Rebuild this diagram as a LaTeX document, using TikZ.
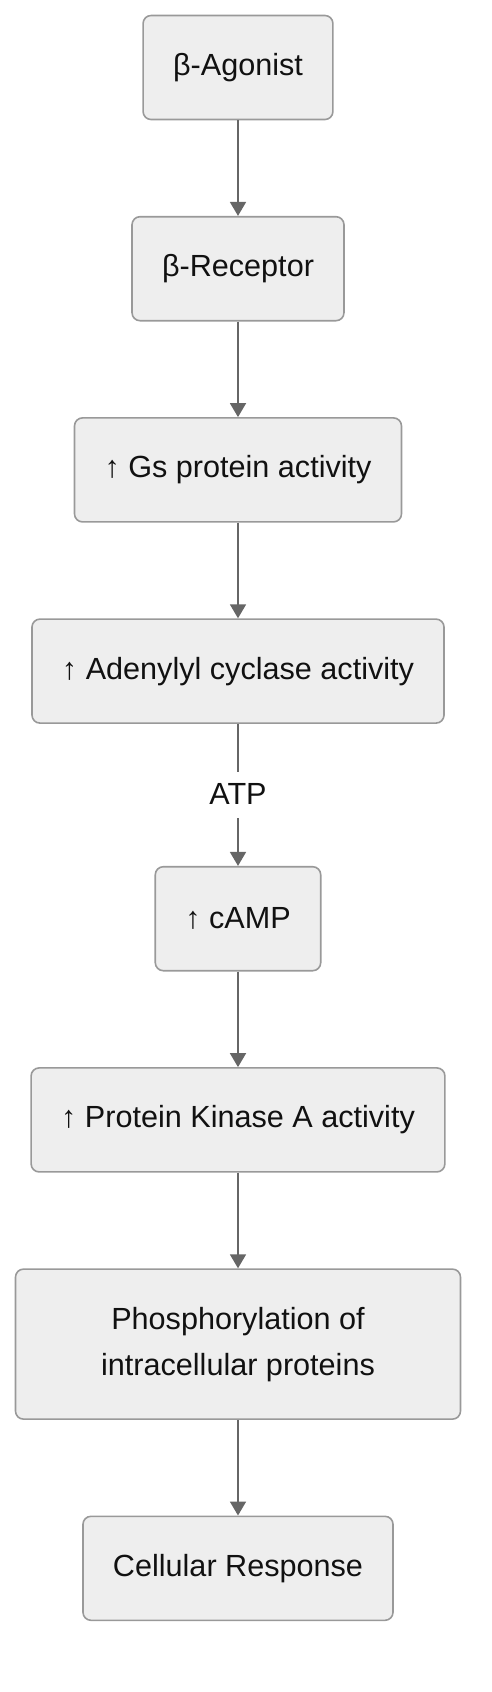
\documentclass[tikz,border=0pt]{standalone}
\usepackage{fontspec}
\setmainfont{Liberation Sans}
\usetikzlibrary{positioning,arrows.meta}
\definecolor{boxfill}{HTML}{EEEEEE}
\definecolor{boxline}{HTML}{999999}
\definecolor{flowline}{HTML}{666666}
\definecolor{ink}{HTML}{111111}
\begin{document}
\begin{tikzpicture}[x=1pt,y=1pt,
    stage/.style={draw=boxline,fill=boxfill,line width=1.6pt,rounded corners=8pt,
      minimum height=104pt,inner xsep=30pt,text=ink,align=center,
      font=\fontsize{30.6}{46}\selectfont},
    flow/.style={draw=flowline,line width=1.8pt,-{Triangle[length=14pt,width=16pt]}},
    atp/.style={fill=white,text=ink,inner xsep=4pt,inner ysep=11pt,
      text height=22pt,text depth=2pt,font=\fontsize{30.6}{46}\selectfont},
    node distance=95.6pt]
  \useasboundingbox (0,0) rectangle (492,-1692); % page
  \node[stage] (agonist) at (238,-67.5) {β-Agonist};
  \node[stage,below=of agonist] (receptor) {β-Receptor};
  \node[stage,below=of receptor] (gs) {↑ Gs protein activity};
  \node[stage,below=of gs] (ac) {↑ Adenylyl cyclase activity};
  \node[stage,below=142pt of ac] (camp) {↑ cAMP};
  \node[stage,below=of camp] (pka) {↑ Protein Kinase A activity};
  \node[stage,below=of pka,minimum width=445pt,minimum height=150pt] (phos) {Phosphorylation of\\intracellular proteins};
  \node[stage,below=of phos] (resp) {Cellular Response};
  % links
  \draw[flow] (agonist) -- (receptor);
  \draw[flow] (receptor) -- (gs);
  \draw[flow] (gs) -- (ac);
  \draw[flow] (ac) -- node[atp]{ATP} (camp);
  \draw[flow] (camp) -- (pka);
  \draw[flow] (pka) -- (phos);
  \draw[flow] (phos) -- (resp);
\end{tikzpicture}
\end{document}
